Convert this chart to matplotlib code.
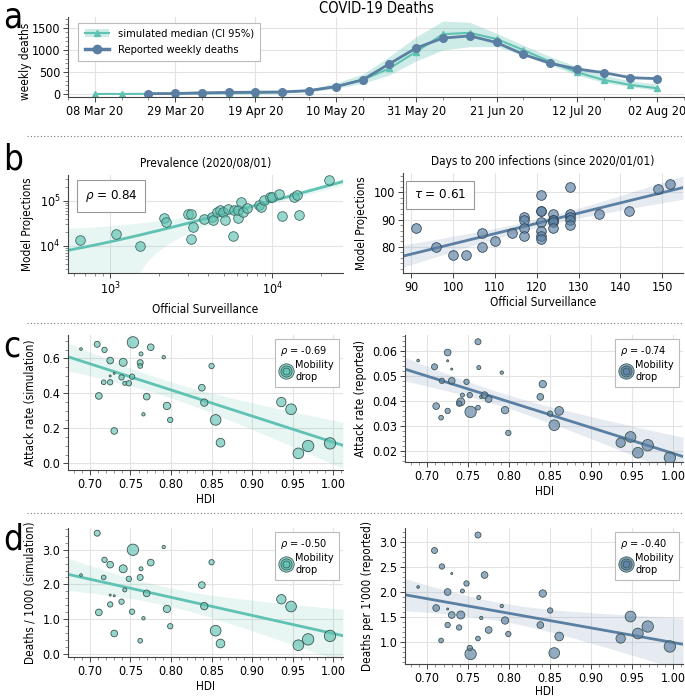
import matplotlib
matplotlib.use("Agg")
import matplotlib.pyplot as plt
import matplotlib.dates as mdates
from matplotlib.lines import Line2D
from matplotlib.patches import Patch
from matplotlib.legend_handler import HandlerTuple
from matplotlib.ticker import AutoMinorLocator, FormatStrFormatter, NullFormatter
import numpy as np
import pandas as pd

plt.rcParams['font.family'] = ['DejaVu Sans']
plt.rcParams['font.stretch'] = 'condensed'
plt.rcParams['mathtext.fontset'] = 'dejavusans'

TEAL = '#5fc2b2'
BLUE = '#5a7fa2'
LAB = 8.5   # axis label size

# ---- panel a: weekly deaths ----
weeks = pd.date_range('2020-03-08', '2020-08-02', freq='7D')
sim_median = [0, 0, 2, 5, 10, 15, 20, 35, 75, 170, 320, 580, 960, 1360, 1390, 1250,
              1000, 733, 492, 318, 204, 129]
sim_lo = [0, 0, 0, 2, 5, 8, 12, 20, 50, 120, 240, 430, 750, 1000, 1075, 1075,
          885, 660, 430, 257, 166, 75]
sim_hi = [0, 0, 5, 10, 18, 25, 35, 55, 110, 250, 450, 850, 1300, 1660, 1630, 1380,
          1110, 850, 620, 430, 295, 227]
reported = [np.nan, np.nan, 5, 10, 25, 35, 40, 45, 75, 165, 320, 685, 1045, 1270, 1320,
            1170, 900, 697, 567, 484, 370, 347]

# ---- panel b: model vs surveillance ----
prev_official = [655, 1088, 1530, 2130, 2200, 3030, 3135, 3220, 3160, 3790, 4240, 4320,
                 4530, 4750, 4930, 5090, 5340, 5730, 5810, 6090, 6150, 6360, 6540, 6990,
                 8280, 8440, 8890, 9640, 10000, 11000, 11500, 13600, 14200, 14600, 22300]
prev_model = [13100, 17800, 10000, 42200, 33300, 50800, 50800, 25800, 14000, 38700, 44400,
              37500, 57100, 62200, 57100, 37500, 65500, 16600, 62200, 40800, 62200, 95000,
              57100, 67800, 80200, 73700, 103000, 118000, 122000, 140000, 45900, 122000,
              133000, 48300, 286000]
days_official = [91, 96, 100, 103, 107, 107, 110, 114, 117, 117, 117, 117, 121, 121, 121,
                 121, 121, 121, 121, 124, 124, 124, 124, 124, 128, 128, 128, 128, 128,
                 135, 142, 149, 152]
days_model = [87, 80, 77, 77, 85, 80, 82, 85, 91, 90, 87, 84, 99, 93, 93, 89, 86, 84, 83,
              92, 90, 90, 89, 87, 102, 92, 91, 90, 88, 92, 93, 101, 103]

# ---- panels c, d: HDI ----
hdi = [0.689, 0.709, 0.718, 0.725, 0.711, 0.717, 0.725, 0.730, 0.725, 0.730, 0.741, 0.739,
       0.743, 0.748, 0.753, 0.752, 0.762, 0.763, 0.762, 0.766, 0.770, 0.775, 0.791, 0.795,
       0.799, 0.838, 0.841, 0.850, 0.855, 0.861, 0.936, 0.948, 0.957, 0.969, 0.996]
mobility_drop = [16, 36, 32, 40, 40, 28, 32, 40, 12, 12, 48, 32, 24, 32, 68, 32, 36, 24,
                 28, 20, 40, 40, 20, 44, 32, 40, 44, 32, 64, 52, 56, 64, 64, 68, 68]
attack_sim = [0.653, 0.680, 0.648, 0.587, 0.385, 0.463, 0.463, 0.185, 0.499, 0.514, 0.577,
              0.491, 0.457, 0.457, 0.691, 0.495, 0.575, 0.625, 0.556, 0.280, 0.381, 0.663,
              0.606, 0.328, 0.248, 0.432, 0.347, 0.556, 0.248, 0.118, 0.350, 0.309, 0.057,
              0.099, 0.114]
attack_rep = [0.0561, 0.0536, 0.0480, 0.0593, 0.0379, 0.0333, 0.0360, 0.0480, 0.0560,
              0.0527, 0.0396, 0.0389, 0.0423, 0.0476, 0.0356, 0.0423, 0.0636, 0.0533,
              0.0373, 0.0416, 0.0423, 0.0407, 0.0513, 0.0363, 0.0272, 0.0416, 0.0467,
              0.0349, 0.0303, 0.0360, 0.0233, 0.0256, 0.0193, 0.0223, 0.0173]
deaths_sim = [2.27, 3.48, 2.71, 2.57, 1.19, 2.20, 1.42, 0.58, 1.69, 1.67, 2.45, 1.50, 1.84,
              2.16, 3.00, 1.21, 2.20, 2.45, 0.37, 1.02, 1.74, 2.63, 3.08, 1.29, 0.79, 1.98,
              1.37, 2.64, 0.66, 0.29, 1.57, 1.36, 0.24, 0.41, 0.51]
deaths_rep = [2.10, 2.83, 2.51, 2.00, 1.68, 1.03, 1.34, 1.54, 1.66, 2.37, 1.54, 1.29, 2.02,
              2.17, 0.76, 0.88, 3.14, 1.89, 1.07, 1.48, 2.34, 1.24, 1.72, 1.43, 1.16, 1.34,
              1.97, 1.63, 0.78, 1.11, 1.07, 1.51, 1.17, 1.31, 0.91]


def fit_band(x, y, xs):
    x = np.asarray(x, float)
    y = np.asarray(y, float)
    b, a = np.polyfit(x, y, 1)
    n = len(x)
    s = np.sqrt(np.sum((y - (a + b * x)) ** 2) / (n - 2))
    se = s * np.sqrt(1 / n + (xs - x.mean()) ** 2 / np.sum((x - x.mean()) ** 2))
    yhat = a + b * xs
    return yhat, yhat - 2.03 * se, yhat + 2.03 * se


def style_ax(ax):
    for sp in ['top', 'right']:
        ax.spines[sp].set_visible(False)
    for sp in ['left', 'bottom']:
        ax.spines[sp].set_color('#444444')
        ax.spines[sp].set_linewidth(0.8)
    ax.grid(True, color='#e3e3e3', lw=0.8)
    ax.set_axisbelow(True)
    ax.tick_params(labelsize=9, length=3.5, width=0.7, color='#444444', pad=2)
    ax.tick_params(which='minor', length=2, width=0.5, color='#666666')


def reg_panel(ax, x, y, color, xlim):
    xs = np.linspace(xlim[0], xlim[1], 200)
    yhat, lo, hi = fit_band(x, y, xs)
    ax.fill_between(xs, lo, hi, color=color, alpha=0.15, lw=0)
    ax.plot(xs, yhat, color=color, lw=2)
    ax.set_xlim(xlim)


def rgba(c, a):
    r, g, b = matplotlib.colors.to_rgb(c)
    return (r, g, b, a)


def mob_legend(ax, color, rho):
    face = rgba(color, 0.65)
    hs = tuple(Line2D([], [], ls='none', marker='o', markersize=m, markerfacecolor=face,
                      markeredgecolor='#3b5f5a', markeredgewidth=0.6) for m in (11, 8, 5))
    leg = ax.legend([hs], ['Mobility\ndrop'], title=r'$\rho$ = ' + rho, loc='upper right',
                    handler_map={tuple: HandlerTuple(ndivide=1, pad=0)}, fontsize=7.8,
                    title_fontsize=7.8, alignment='left', fancybox=False, edgecolor='#bbbbbb',
                    handlelength=1.1, handletextpad=0.3, borderpad=0.45, framealpha=1,
                    borderaxespad=0.4, labelspacing=0.2)
    leg.get_frame().set_linewidth(0.8)


def hdi_scatter(ax, y, color):
    sizes = (0.12 * np.asarray(mobility_drop)) ** 2
    ax.scatter(hdi, y, s=sizes, color=rgba(color, 0.65), edgecolor='#3d5552', lw=0.6, zorder=3)
    ax.set_xticks([0.70, 0.75, 0.80, 0.85, 0.90, 0.95, 1.00])
    ax.xaxis.set_major_formatter(FormatStrFormatter('%.2f'))
    ax.yaxis.set_minor_locator(AutoMinorLocator())
    ax.xaxis.set_minor_locator(AutoMinorLocator())
    ax.set_xlabel('HDI', fontsize=LAB, labelpad=2)


fig = plt.figure(figsize=(6.85, 6.97), dpi=100)
W, H = 685.0, 697.0


def add_ax(l, t, r, b):
    return fig.add_axes([l / W, 1 - b / H, (r - l) / W, (b - t) / H])


# ---- a ----
ax = add_ax(68, 17, 684, 97)
style_ax(ax)
ax.fill_between(weeks, sim_lo, sim_hi, color=TEAL, alpha=0.3, lw=0)
ax.plot(weeks, sim_median, color=TEAL, lw=1.5, marker='^', ms=5)
ax.plot(weeks, reported, color=BLUE, lw=2, marker='o', ms=5.5)
ax.set_xlim(pd.Timestamp('2020-03-01'), pd.Timestamp('2020-08-09'))
ax.set_ylim(-70, 1750)
ax.set_yticks([0, 500, 1000, 1500])
ax.yaxis.set_minor_locator(AutoMinorLocator(5))
ax.set_xticks(pd.date_range('2020-03-08', '2020-08-02', freq='21D'))
ax.set_xticks(pd.date_range('2020-03-01', '2020-08-09', freq='7D'), minor=True)
ax.xaxis.set_major_formatter(mdates.DateFormatter('%d %b %y'))
ax.set_ylabel('weekly deaths', fontsize=LAB)
ax.yaxis.set_label_coords(-0.058, 0.45)
ax.set_title('COVID-19 Deaths', fontsize=10.5, pad=3)
h_sim = (Patch(color=TEAL, alpha=0.3, lw=0), Line2D([], [], color=TEAL, lw=1.5, marker='^', ms=5))
h_rep = Line2D([], [], color=BLUE, lw=2.5, marker='o', ms=6)
leg = ax.legend([h_sim, h_rep], ['simulated median (CI 95%)', 'Reported weekly deaths'],
                loc='upper left', bbox_to_anchor=(0.008, 1.0), fontsize=8, fancybox=False,
                edgecolor='#bbbbbb', framealpha=1, handlelength=2.2, labelspacing=0.6,
                borderpad=0.55, handler_map={tuple: HandlerTuple(ndivide=1, pad=0)})
leg.get_frame().set_linewidth(0.8)

# ---- b left ----
ax = add_ax(68, 175, 343, 273)
style_ax(ax)
ax.set_xscale('log')
ax.set_yscale('log')
xl = (549, 27200)
xs = np.logspace(np.log10(xl[0]), np.log10(xl[1]), 200)
yhat, lo, hi = fit_band(prev_official, prev_model, xs)
ax.fill_between(xs, np.clip(lo, 1, None), hi, color=TEAL, alpha=0.15, lw=0)
ax.plot(xs, yhat, color=TEAL, lw=2)
ax.scatter(prev_official, prev_model, s=48, color=rgba(TEAL, 0.65), edgecolor='#3d6b64',
           lw=0.6, zorder=3)
ax.set_xlim(xl)
ax.set_ylim(2500, 368000)
ax.xaxis.set_minor_formatter(NullFormatter())
ax.yaxis.set_minor_formatter(NullFormatter())
ax.grid(False, which='minor')
ax.set_title('Prevalence (2020/08/01)', fontsize=LAB, pad=6)
ax.set_xlabel('Official Surveillance', fontsize=LAB, labelpad=4)
ax.set_ylabel('Model Projections', fontsize=LAB)
ax.text(0.156, 0.786, r'$\rho$ = 0.84', transform=ax.transAxes, fontsize=9.5, ha='center',
        va='center', bbox=dict(boxstyle='square,pad=0.6', fc='white', ec='#999999', lw=0.8))

# ---- b right ----
ax = add_ax(403, 173, 683, 273)
style_ax(ax)
reg_panel(ax, days_official, days_model, BLUE, (88, 155))
ax.scatter(days_official, days_model, s=48, color=rgba(BLUE, 0.65), edgecolor='#33475a',
           lw=0.6, zorder=3)
ax.set_ylim(70.5, 107)
ax.set_xticks(range(90, 151, 10))
ax.set_yticks([80, 90, 100])
ax.yaxis.set_minor_locator(AutoMinorLocator(5))
ax.set_title('Days to 200 infections (since 2020/01/01)', fontsize=LAB, pad=6)
ax.set_xlabel('Official Surveillance', fontsize=LAB, labelpad=2)
ax.set_ylabel('Model Projections', fontsize=LAB)
ax.text(0.132, 0.78, r'$\tau$ = 0.61', transform=ax.transAxes, fontsize=9.5, ha='center',
        va='center', bbox=dict(boxstyle='square,pad=0.6', fc='white', ec='#999999', lw=0.8))

HX = (0.673, 1.012)

# ---- c left ----
ax = add_ax(68, 335, 343, 470)
style_ax(ax)
reg_panel(ax, hdi, attack_sim, TEAL, HX)
hdi_scatter(ax, attack_sim, TEAL)
ax.set_ylim(-0.038, 0.733)
ax.set_yticks([0.0, 0.2, 0.4, 0.6])
ax.yaxis.set_major_formatter(FormatStrFormatter('%.1f'))
ax.set_ylabel('Attack rate (simulation)', fontsize=LAB)
mob_legend(ax, TEAL, '-0.69')

# ---- c right ----
ax = add_ax(405, 335, 683, 462)
style_ax(ax)
reg_panel(ax, hdi, attack_rep, BLUE, HX)
hdi_scatter(ax, attack_rep, BLUE)
ax.set_ylim(0.0156, 0.0663)
ax.set_yticks([0.02, 0.03, 0.04, 0.05, 0.06])
ax.yaxis.set_major_formatter(FormatStrFormatter('%.2f'))
ax.set_ylabel('Attack rate (reported)', fontsize=LAB)
mob_legend(ax, BLUE, '-0.74')

# ---- d left ----
ax = add_ax(68, 528, 343, 657)
style_ax(ax)
reg_panel(ax, hdi, deaths_sim, TEAL, HX)
hdi_scatter(ax, deaths_sim, TEAL)
ax.set_ylim(-0.1, 3.63)
ax.set_yticks([0.0, 1.0, 2.0, 3.0])
ax.yaxis.set_major_formatter(FormatStrFormatter('%.1f'))
ax.set_ylabel('Deaths / 1000 (simulation)', fontsize=LAB)
mob_legend(ax, TEAL, '-0.50')

# ---- d right ----
ax = add_ax(405, 528, 683, 664)
style_ax(ax)
reg_panel(ax, hdi, deaths_rep, BLUE, HX)
hdi_scatter(ax, deaths_rep, BLUE)
ax.set_ylim(0.56, 3.28)
ax.set_yticks([1.0, 1.5, 2.0, 2.5, 3.0])
ax.yaxis.set_major_formatter(FormatStrFormatter('%.1f'))
ax.set_ylabel("Deaths per 1'000 (reported)", fontsize=LAB)
ax.xaxis.labelpad = 0
mob_legend(ax, BLUE, '-0.40')

# panel letters and separators
for letter, top in [('a', 0), ('b', 143), ('c', 330), ('d', 523)]:
    fig.text(3 / W, 1 - top / H, letter, fontsize=25, va='top', ha='left')
for yy in [136, 323, 513]:
    fig.add_artist(Line2D([27 / W, 682 / W], [1 - yy / H, 1 - yy / H], color='#777777',
                          lw=0.8, ls=(0, (1, 2))))

fig.savefig('out.png', dpi=100)
